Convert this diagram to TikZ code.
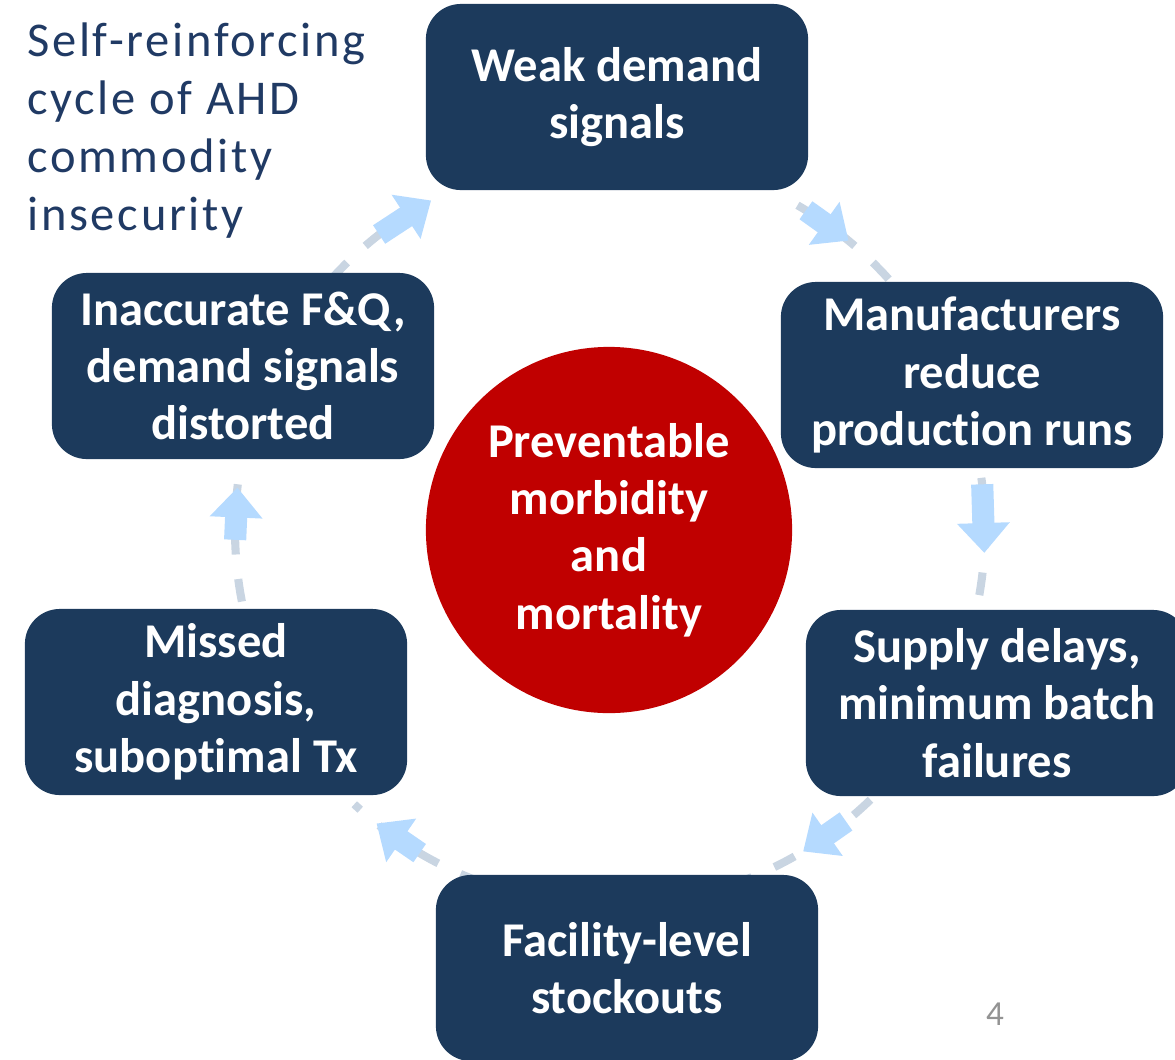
\documentclass[tikz,border=0pt]{standalone}
\usepackage{fontspec}
\setmainfont[Ligatures=NoCommon]{Carlito}
\newfontfamily\titlefont[LetterSpace=5.5,Ligatures=NoCommon]{Carlito}
\usetikzlibrary{arrows.meta}
\definecolor{boxnavy}{HTML}{1C3A5C}
\definecolor{titlenavy}{HTML}{203A64}
\definecolor{corered}{HTML}{C00000}
\definecolor{ringgray}{HTML}{C9D5E2}
\definecolor{flowblue}{HTML}{B5DAFF}
\tikzset{
  stagebox/.style={draw=none, fill=boxnavy, rounded corners=0.35cm,
    minimum width=3.82cm, minimum height=1.86cm, text=white, align=center,
    font=\fontsize{13.8}{16.3}\selectfont\bfseries},
  corenode/.style={circle, fill=corered, minimum size=3.66cm, text=white,
    align=center, font=\fontsize{13.8}{16.3}\selectfont\bfseries},
  ringdash/.style={draw=ringgray, line width=2.3pt, dash pattern=on 6.5pt off 7pt},
  flowarrow/.style={draw=flowblue, line width=6.3pt,
    -{Triangle[width=14.5pt,length=8.5pt]}},
}
\begin{document}
\begin{tikzpicture}[x=0.01cm,y=-0.01cm]
\useasboundingbox (0,0) rectangle (1175,1060);
\clip (0,0) rectangle (1175,1060);

% title
\node[anchor=north west, align=left, text=titlenavy,
      font=\fontsize{13.8}{16.5}\selectfont\titlefont] (title) at (15,10)
  {Self-reinforcing\\cycle of AHD\\commodity\\insecurity};

% ring of dashed connectors (centre 610,530, radius 375)
\draw[ringdash] plot[domain=138:117, samples=40] ({610+375*cos(\x)},{530-375*sin(\x)});
\draw[ringdash] plot[domain=60:40, samples=40] ({610+375*cos(\x)},{530-375*sin(\x)});
\draw[ringdash] plot[domain=8:-12, samples=40] ({610+375*cos(\x)},{530-375*sin(\x)});
\draw[ringdash] plot[domain=-46:-69, samples=40] ({610+375*cos(\x)},{530-375*sin(\x)});
\draw[ringdash] plot[domain=-110:-133, samples=40] ({610+375*cos(\x)},{530-375*sin(\x)});
\draw[ringdash] plot[domain=191:170, samples=40] ({610+375*cos(\x)},{530-375*sin(\x)});

% stage boxes
\node[stagebox] (weak) at (617,97) {Weak demand\\signals};
\node[stagebox] (manu) at (972,375) {Manufacturers\\reduce\\production runs};
\node[stagebox] (supply) at (997,703) {Supply delays,\\minimum batch\\failures};
\node[stagebox] (facility) at (627,968) {Facility-level\\stockouts};
\node[stagebox] (missed) at (216,702) {Missed\\diagnosis,\\suboptimal Tx};
\node[stagebox] (inacc) at (243,366) {Inaccurate F\&Q,\\demand signals\\distorted};

% central outcome
\node[corenode] (core) at (609,530) {Preventable\\morbidity\\and\\mortality};

% flow arrows on the ring
\coordinate (t1) at ({610+375*cos(128)},{530-375*sin(128)});
\coordinate (h1) at ({610+375*cos(118.5)},{530-375*sin(118.5)});
\coordinate (t2) at ({610+375*cos(58.5)},{530-375*sin(58.5)});
\coordinate (h2) at ({610+375*cos(50.5)},{530-375*sin(50.5)});
\coordinate (t3) at ({610+375*cos(7)},{530-375*sin(7)});
\coordinate (h3) at ({610+375*cos(-3.5)},{530-375*sin(-3.5)});
\coordinate (t4) at ({610+375*cos(-51)},{530-375*sin(-51)});
\coordinate (h4) at ({610+375*cos(-59)},{530-375*sin(-59)});
\coordinate (t5) at ({610+375*cos(-120.5)},{530-375*sin(-120.5)});
\coordinate (h5) at ({610+375*cos(-128.5)},{530-375*sin(-128.5)});
\coordinate (t6) at ({610+375*cos(181.5)},{530-375*sin(181.5)});
\coordinate (h6) at ({610+375*cos(173.5)},{530-375*sin(173.5)});
\draw[flowarrow] (t1) -- (h1);
\draw[flowarrow] (t2) -- (h2);
\draw[flowarrow] (t3) -- (h3);
\draw[flowarrow] (t4) -- (h4);
\draw[flowarrow] (t5) -- (h5);
\draw[flowarrow] (t6) -- (h6);

% page number
\node[text=gray!85, font=\fontsize{10}{12}\selectfont] (pagenum) at (995,1014) {4};
\end{tikzpicture}
\end{document}
